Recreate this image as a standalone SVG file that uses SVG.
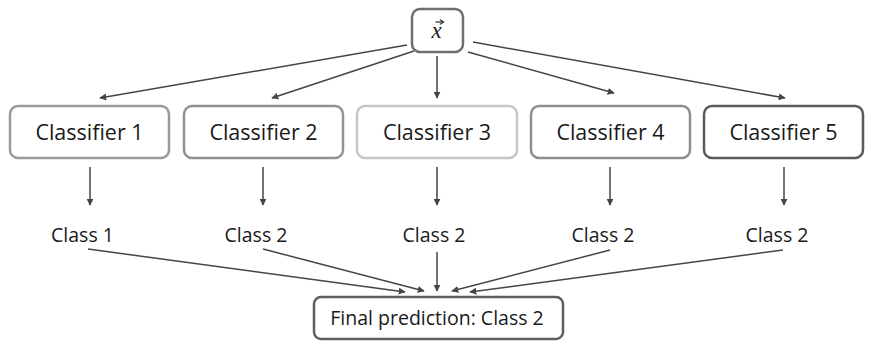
<svg xmlns="http://www.w3.org/2000/svg" width="869" height="343" viewBox="0 0 869 343">
<defs>
<style>
.box{fill:#fff;stroke-width:2.5}
.lbl{font-family:"Open Sans","Liberation Sans",sans-serif;fill:#1a1a1a;text-anchor:middle}
.cls{font-size:21.5px}
.small{font-size:19.5px}
.edge{stroke:#454545;stroke-width:1.5;fill:none;marker-end:url(#ah)}
</style>
<marker id="ah" viewBox="0 0 10 10" refX="9" refY="5" markerWidth="7" markerHeight="7" orient="auto" markerUnits="userSpaceOnUse">
<path d="M0,0 L10,5 L0,10 z" fill="#454545"/>
</marker>
</defs>
<rect width="869" height="343" fill="#fff"/>
<g id="x">
<rect class="box" x="412" y="9" width="51" height="43" rx="8" stroke="#6f6f6f"/>
<text x="436.5" y="38" font-family="Liberation Serif, DejaVu Serif, serif" font-style="italic" font-size="23" fill="#1a1a1a" text-anchor="middle">x</text>
<path d="M435.5,22 H442.5" stroke="#1a1a1a" stroke-width="1.1"/>
<path d="M440,19.6 L443.6,22 L440,24.4" fill="none" stroke="#1a1a1a" stroke-width="1.1"/>
</g>
<g id="classifier1">
<rect class="box" x="10" y="106" width="159" height="52" rx="8" stroke="#9a9a9a"/>
<text class="lbl cls" x="89.5" y="140">Classifier 1</text>
</g>
<g id="classifier2">
<rect class="box" x="184" y="106" width="159" height="52" rx="8" stroke="#929292"/>
<text class="lbl cls" x="263.5" y="140">Classifier 2</text>
</g>
<g id="classifier3">
<rect class="box" x="357" y="106" width="160" height="52" rx="8" stroke="#c6c6c6"/>
<text class="lbl cls" x="437" y="140">Classifier 3</text>
</g>
<g id="classifier4">
<rect class="box" x="531" y="106" width="159" height="52" rx="8" stroke="#8e8e8e"/>
<text class="lbl cls" x="610.5" y="140">Classifier 4</text>
</g>
<g id="classifier5">
<rect class="box" x="704" y="106" width="159" height="52" rx="8" stroke="#5a5a5a"/>
<text class="lbl cls" x="783.5" y="140">Classifier 5</text>
</g>
<g id="class1"><text class="lbl small" x="82.5" y="242">Class 1</text></g>
<g id="class2a"><text class="lbl small" x="256" y="242">Class 2</text></g>
<g id="class2b"><text class="lbl small" x="434" y="242">Class 2</text></g>
<g id="class2c"><text class="lbl small" x="603" y="242">Class 2</text></g>
<g id="class2d"><text class="lbl small" x="777" y="242">Class 2</text></g>
<g id="final">
<rect class="box" x="314" y="297" width="249" height="42" rx="7" stroke="#5f5f5f"/>
<text class="lbl small" x="437" y="325">Final prediction: Class 2</text>
</g>
<g id="connectors">
<line class="edge" x1="407" y1="45" x2="100" y2="98"/>
<line class="edge" x1="414" y1="51" x2="272" y2="98"/>
<line class="edge" x1="437" y1="56" x2="437" y2="98"/>
<line class="edge" x1="468" y1="52" x2="614" y2="93"/>
<line class="edge" x1="473" y1="42" x2="785" y2="98"/>
<line class="edge" x1="90" y1="167" x2="90" y2="205"/>
<line class="edge" x1="263" y1="167" x2="263" y2="205"/>
<line class="edge" x1="437" y1="167" x2="437" y2="205"/>
<line class="edge" x1="610" y1="167" x2="610" y2="205"/>
<line class="edge" x1="784" y1="167" x2="784" y2="205"/>
<line class="edge" x1="88" y1="249" x2="405" y2="292"/>
<line class="edge" x1="263" y1="249" x2="424" y2="291"/>
<line class="edge" x1="437" y1="252" x2="437" y2="291"/>
<line class="edge" x1="610" y1="250" x2="452" y2="291"/>
<line class="edge" x1="783" y1="250" x2="470" y2="292"/>
</g>
</svg>
